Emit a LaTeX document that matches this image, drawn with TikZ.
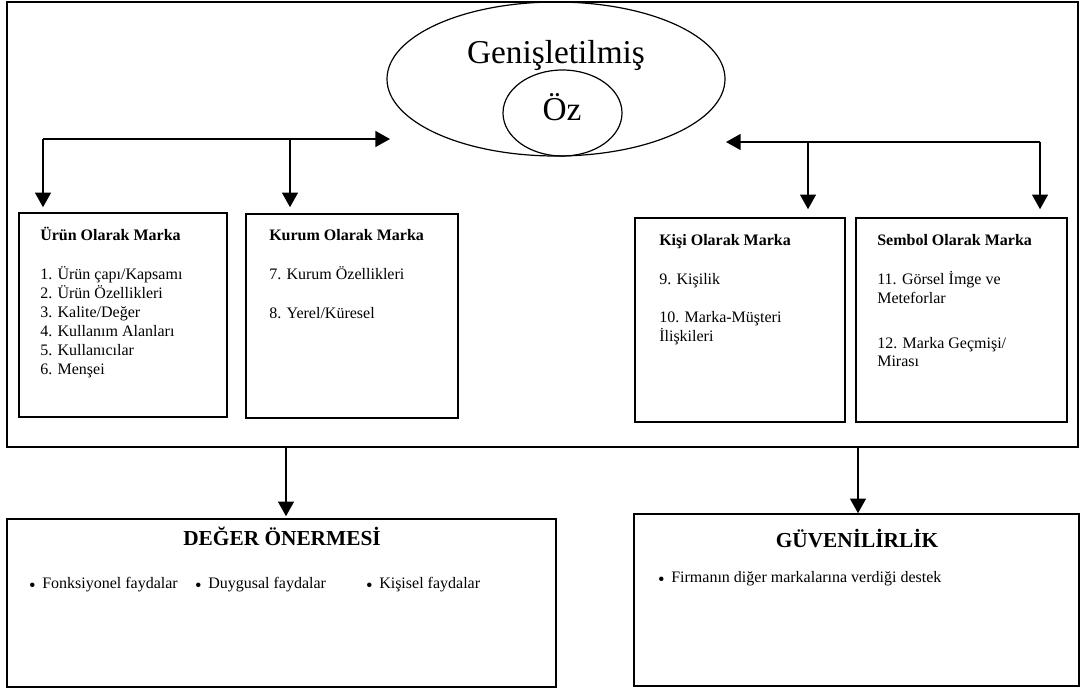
\documentclass[tikz,border=0pt]{standalone}
\usepackage{fontspec}
\setmainfont{Liberation Serif}
\usetikzlibrary{arrows.meta, positioning, shapes.geometric, calc}

\begin{document}
\begin{tikzpicture}[x=0.75pt, y=-0.75pt,
    frame/.style={rectangle, draw, line width=1.2pt, inner sep=0pt},
    brandbox/.style={rectangle, draw, line width=1.2pt, inner sep=0pt, minimum height=153pt},
    header/.style={anchor=base west, inner sep=0pt, font=\fontsize{12}{14}\selectfont\bfseries},
    item/.style={anchor=base west, inner sep=0pt, font=\fontsize{12}{14}\selectfont},
    bigtitle/.style={anchor=base, inner sep=0pt, font=\fontsize{16}{19}\selectfont\bfseries},
    benefit/.style={item, execute at begin node={\llap{\raisebox{-2.4pt}{\fontsize{14}{14}\selectfont\textbullet}\hspace{5pt}}}},
    core/.style={ellipse, draw, line width=0.9pt, inner sep=0pt},
    coretext/.style={anchor=base, inner sep=0pt, font=\fontsize{25}{30}\selectfont},
    flow/.style={-{Triangle[length=11pt, width=12pt]}, line width=1.1pt}
]
\useasboundingbox (0,0) rectangle (1080,690);

% outer frame and the core ellipses
\node[frame, minimum width=803.25pt, minimum height=333.75pt] (frame) at (542.5,224.5) {};
\node[core, minimum width=253.5pt, minimum height=115.5pt] (extended) at (556,79) {};
\node[core, minimum width=89.25pt, minimum height=64.5pt] (essence) at (562.5,113) {};
\node[coretext] (extlabel) at (556,63) {Genişletilmiş};
\node[coretext] (ozlabel) at (562,120) {Öz};

% four brand perspectives
\node[brandbox, minimum width=156pt] (urun) at (123,315) {};
\node[brandbox, minimum width=159pt] (kurum) at (352,316) {};
\node[brandbox, minimum width=157.5pt] (kisi) at (740,320) {};
\node[brandbox, minimum width=158.25pt] (sembol) at (961.5,320) {};

\node[header] (urunhead) at (40,240) {Ürün Olarak Marka};
\foreach \t [count=\i] in {1. Ürün çapı/Kapsamı, 2. Ürün Özellikleri, 3. Kalite/Değer,
    4. Kullanım Alanları, 5. Kullanıcılar, 6. Menşei}
    \node[item] (urun\i) at (40,{260+19*\i}) {\t};

\node[header] (kurumhead) at (269,240) {Kurum Olarak Marka};
\node[item] (kurum1) at (269,279) {7. Kurum Özellikleri};
\node[item] (kurum2) at (269,318) {8. Yerel/Küresel};

\node[header] (kisihead) at (659,245) {Kişi Olarak Marka};
\node[item] (kisi1) at (659,284) {9. Kişilik};
\node[item] (kisi2) at (659,322) {10. Marka-Müşteri};
\node[item] (kisi3) at (659,341) {İlişkileri};

\node[header] (sembolhead) at (877,245) {Sembol Olarak Marka};
\node[item] (sembol1) at (877,284) {11. Görsel İmge ve};
\node[item] (sembol2) at (877,303) {Meteforlar};
\node[item] (sembol3) at (877,348) {12. Marka Geçmişi/};
\node[item] (sembol4) at (877,366) {Mirası};

% value proposition and credibility
\node[frame, minimum width=411.75pt, minimum height=126pt] (deger) at (281.5,603) {};
\node[frame, minimum width=333.75pt, minimum height=129pt] (guven) at (856.5,600) {};
\node[bigtitle] (degerhead) at (282,545) {DEĞER ÖNERMESİ};
\node[benefit] (fayda1) at (42,588) {Fonksiyonel faydalar};
\node[benefit] (fayda2) at (208,588) {Duygusal faydalar};
\node[benefit] (fayda3) at (379,588) {Kişisel faydalar};
\node[bigtitle] (guvenhead) at (857,547) {GÜVENİLİRLİK};
\node[benefit] (destek) at (671,582) {Firmanın diğer markalarına verdiği destek};

% branch lines
\coordinate (lbranch) at (43,139);
\coordinate (lmid) at (290,139);
\coordinate (ltip) at (390,139);
\coordinate (rtip) at (726,142);
\coordinate (rmid) at (808,142);
\coordinate (rbranch) at (1040,142);
\coordinate (ldown) at (286,0);
\coordinate (rdown) at (858,0);

\draw[flow] (lbranch) -- (ltip);
\draw[flow] (lbranch) -- ($(lbranch |- urun.north)+(0,-5)$);
\draw[flow] (lmid) -- ($(lmid |- kurum.north)+(0,-6)$);
\draw[flow] (rbranch) -- (rtip);
\draw[flow] (rmid) -- ($(rmid |- kisi.north)+(0,-8)$);
\draw[flow] (rbranch) -- ($(rbranch |- sembol.north)+(0,-8)$);
\draw[flow] (frame.south -| ldown) -- ($(deger.north -| ldown)+(0,-2)$);
\draw[flow] (frame.south -| rdown) -- (guven.north -| rdown);
\end{tikzpicture}
\end{document}
